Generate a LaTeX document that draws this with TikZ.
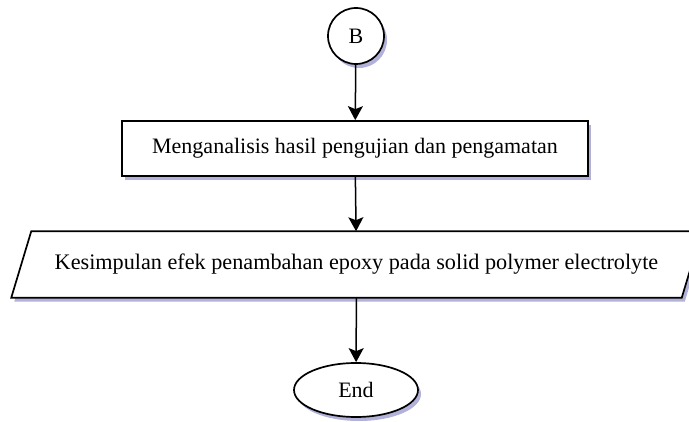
\documentclass[tikz,border=0pt]{standalone}
\usepackage{fontspec}
\setmainfont{Liberation Serif}
\usetikzlibrary{arrows.meta,shapes.geometric,shadows,backgrounds}

\begin{document}
\begin{tikzpicture}[x=1pt,y=1pt,->,>={Stealth[length=14pt,width=15pt,inset=3pt]},line width=1.5pt,
  box shadow/.style={drop shadow={shadow xshift=3pt,shadow yshift=-4pt,fill=blue!35!gray,opacity=0.45}},
  shade box/.style={draw,fill=white,line width=1.7pt,font=\fontsize{22}{26}\selectfont,box shadow},
  connector node/.style={shade box,circle,minimum size=56pt,inner sep=0pt},
  process node/.style={shade box,rectangle,minimum width=466pt,minimum height=55pt},
  data node/.style={rectangle,minimum width=649pt,minimum height=65pt,inner sep=0pt,font=\fontsize{22.2}{26}\selectfont},
  end node/.style={shade box,ellipse,minimum width=124pt,minimum height=54pt,inner sep=0pt}]
  \useasboundingbox (0,0) rectangle (689,421);

  \node[connector node] (B) at (356,385) {B};
  \node[process node] (analisis) at (355,272.5) {Menganalisis hasil pengujian dan pengamatan};
  \node[data node] (kesimpulan) at (356.5,156.5) {Kesimpulan efek penambahan epoxy pada solid polymer electrolyte};
  \node[end node] (end) at (356,31) {End};

  % parallelogram drawn round the text node
  \begin{scope}[on background layer]
    \draw[-,fill=white,line width=1.7pt,box shadow]
      ([xshift=-20pt]kesimpulan.south west) -- (kesimpulan.south east)
      -- ([xshift=20pt]kesimpulan.north east) -- (kesimpulan.north west) -- cycle;
  \end{scope}

  \draw (B) -- (analisis);
  \draw (analisis) -- (kesimpulan);
  \draw (kesimpulan) -- (end);
\end{tikzpicture}
\end{document}
